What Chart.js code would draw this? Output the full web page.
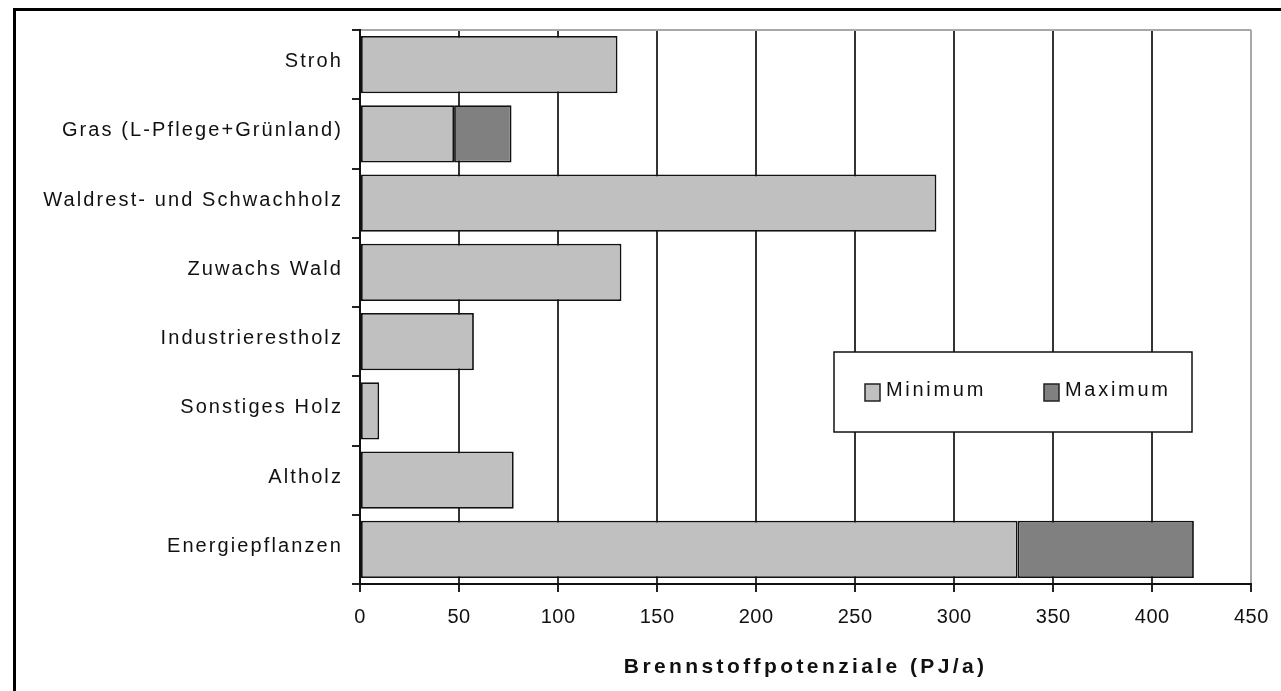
<!DOCTYPE html>
<html>
<head>
<meta charset="utf-8">
<script src="https://cdn.jsdelivr.net/npm/chart.js@4/dist/chart.umd.min.js"></script>
<style>
  html, body { margin: 0; padding: 0; background: #fff; overflow: hidden; }
  #wrap { position: relative; width: 1281px; height: 691px; }
  #frame { position: absolute; left: 13px; top: 8px; width: 1300px; height: 700px;
           border-left: 3px solid #000; border-top: 3px solid #000; pointer-events: none; }
  canvas { position: absolute; left: 0; top: 0; }
</style>
</head>
<body>
<div id="wrap">
  <canvas id="c" width="1281" height="691"></canvas>
  <div id="frame"></div>
</div>
<script>
// ---- data ----
const categories = [
  'Stroh',
  'Gras (L-Pflege+Grünland)',
  'Waldrest- und Schwachholz',
  'Zuwachs Wald',
  'Industrierestholz',
  'Sonstiges Holz',
  'Altholz',
  'Energiepflanzen'
];
const minimumValues = [130, 47.5, 291, 132, 57.5, 9.7, 77.6, 332];
const maximumValues = [null, 76.5, null, null, null, null, null, 421];
const xTickValues = [0, 50, 100, 150, 200, 250, 300, 350, 400, 450];
const seriesLabels = ['Minimum', 'Maximum'];
const axisTitle = 'Brennstoffpotenziale (PJ/a)';

// extra part of the maximum stacked on top of the minimum
const maximumExtra = maximumValues.map((v, i) => v === null ? null : v - minimumValues[i]);

const FONT = '"Liberation Sans", Arial, sans-serif';
const MIN_COLOR = '#c0c0c0';
const MAX_COLOR = '#808080';

function withSpacing(fn, sp) {
  return function (...args) {
    const c = this.ctx;
    const prev = c.letterSpacing;
    c.letterSpacing = sp;
    try { return fn.apply(this, args); } finally { c.letterSpacing = prev; }
  };
}

const spacingPlugin = {
  id: 'spacing',
  afterLayout(chart) {
    const y = chart.scales.y, x = chart.scales.x;
    if (!y._spaced) { y.drawLabels = withSpacing(y.drawLabels, '2.1px'); y._spaced = true; }
    if (!x._spaced) {
      x.drawTitle = withSpacing(x.drawTitle, '3.4px');
      x.drawLabels = withSpacing(x.drawLabels, '0.5px');
      x._spaced = true;
    }
  }
};

const legendBoxPlugin = {
  id: 'legendBox',
  afterDraw(chart) {
    const ctx = chart.ctx;
    ctx.save();
    const bx = 834, by = 352, bw = 358, bh = 80;
    ctx.fillStyle = '#fff';
    ctx.fillRect(bx, by, bw, bh);
    ctx.lineWidth = 1.5;
    ctx.strokeStyle = '#111';
    ctx.strokeRect(bx, by, bw, bh);
    const itemX = [865, 1044];
    ctx.font = '20px ' + FONT;
    ctx.letterSpacing = '2.7px';
    ctx.textBaseline = 'middle';
    ctx.textAlign = 'left';
    chart.data.datasets.forEach((ds, i) => {
      const sx = itemX[i], sy = 384;
      ctx.fillStyle = ds.backgroundColor;
      ctx.fillRect(sx, sy, 15, 17);
      ctx.lineWidth = 1.5;
      ctx.strokeStyle = '#222';
      ctx.strokeRect(sx, sy, 15, 17);
      ctx.fillStyle = '#111';
      ctx.fillText(ds.label, sx + 21, 390);
    });
    ctx.restore();
  }
};

new Chart(document.getElementById('c'), {
  type: 'bar',
  data: {
    labels: categories,
    datasets: [
      {
        label: seriesLabels[0],
        data: minimumValues,
        backgroundColor: MIN_COLOR,
        borderColor: '#111',
        borderWidth: 1.8,
        borderSkipped: false,
        barPercentage: 0.83,
        categoryPercentage: 1.0
      },
      {
        label: seriesLabels[1],
        data: maximumExtra,
        backgroundColor: MAX_COLOR,
        borderColor: '#111',
        borderWidth: 1.8,
        borderSkipped: false,
        barPercentage: 0.83,
        categoryPercentage: 1.0
      }
    ]
  },
  options: {
    indexAxis: 'y',
    responsive: false,
    devicePixelRatio: 1,
    animation: false,
    layout: { padding: { top: 30, right: 29, left: 0, bottom: 0 } },
    plugins: {
      legend: { display: false },
      tooltip: { enabled: false },
      title: { display: false }
    },
    scales: {
      x: {
        type: 'linear',
        stacked: true,
        min: 0,
        max: 450,
        afterBuildTicks: s => { s.ticks = xTickValues.map(v => ({ value: v })); },
        afterFit: s => { s.height = 107; },
        grid: {
          drawOnChartArea: true,
          drawTicks: true,
          tickLength: 8,
          lineWidth: 2,
          color: c => (c.tick && c.tick.value === 450) ? '#a8a8a8' : '#333',
          tickColor: '#222'
        },
        border: { display: true, color: '#111', width: 2 },
        ticks: {
          color: '#111',
          font: { family: FONT, size: 20 },
          padding: 13,
          maxRotation: 0,
          autoSkip: false
        },
        title: {
          display: true,
          text: axisTitle,
          color: '#111',
          font: { family: FONT, size: 21, weight: 'bold' },
          padding: { top: 0, bottom: 11 }
        }
      },
      y: {
        type: 'category',
        stacked: true,
        offset: true,
        afterFit: s => { s.width = 360; },
        grid: {
          offset: true,
          drawOnChartArea: true,
          drawTicks: true,
          tickLength: 8,
          lineWidth: 2,
          color: c => c.index === 0 ? '#a8a8a8' : 'rgba(0,0,0,0)',
          tickColor: '#222'
        },
        border: { display: true, color: '#111', width: 2 },
        ticks: {
          color: '#111',
          font: { family: FONT, size: 20 },
          padding: 9,
          labelOffset: -3,
          autoSkip: false
        }
      }
    }
  },
  plugins: [spacingPlugin, legendBoxPlugin]
});
</script>
</body>
</html>
